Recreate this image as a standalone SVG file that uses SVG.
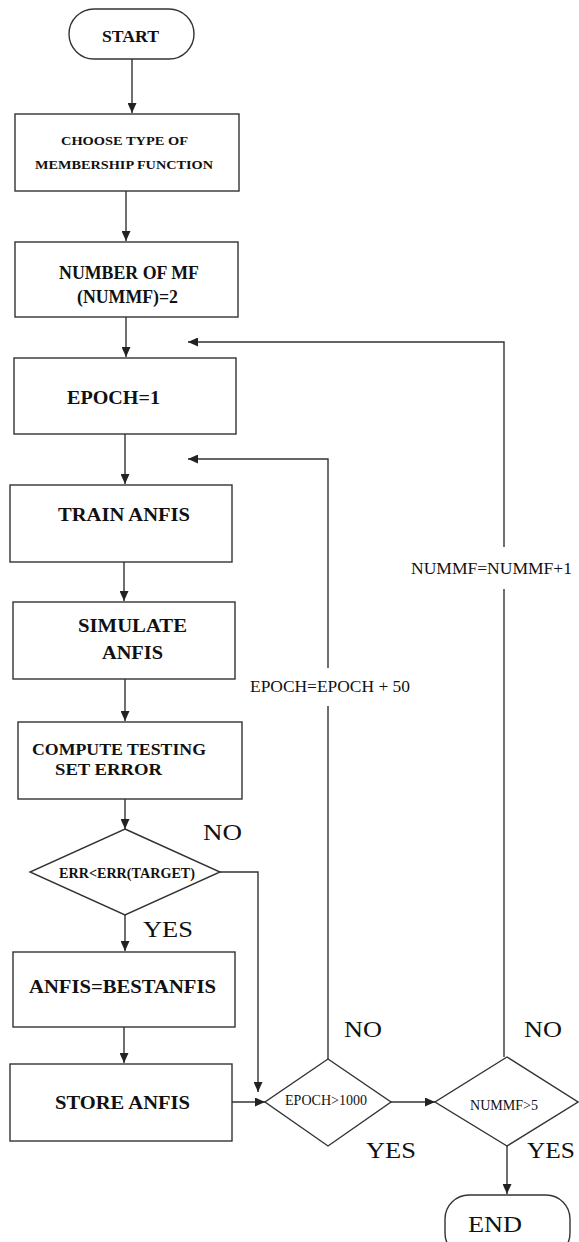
<svg xmlns="http://www.w3.org/2000/svg" width="579" height="1242" viewBox="0 0 579 1242">
<defs>
<marker id="ah" markerUnits="userSpaceOnUse" markerWidth="11" markerHeight="9" refX="10" refY="4.5" orient="auto">
<path d="M0,0 L10,4.5 L0,9 z" fill="#222"/>
</marker>
<style>
.sh{fill:#fff;stroke:#333;stroke-width:1.4}
.ln{fill:none;stroke:#333;stroke-width:1.4}
.ar{fill:none;stroke:#333;stroke-width:1.4;marker-end:url(#ah)}
text{font-family:'Liberation Serif','Times New Roman',serif;fill:#111;text-anchor:middle}
.b{font-weight:bold}
</style>
</defs>
<rect width="579" height="1242" fill="#fff"/>
<g id="connectors">
<path class="ar" d="M132,59 V113"/>
<path class="ar" d="M126,191 V241"/>
<path class="ar" d="M126,317 V357"/>
<path class="ar" d="M125,434 V484"/>
<path class="ar" d="M124,562 V601"/>
<path class="ar" d="M125,679 V721"/>
<path class="ar" d="M125,799 V829"/>
<path class="ar" d="M125,915 V951"/>
<path class="ar" d="M124,1027 V1063"/>
<path class="ar" d="M220,872 H258 V1092"/>
<path class="ar" d="M232,1102 H265"/>
<path class="ar" d="M391,1102 H435"/>
<path class="ar" d="M507,1146 V1194"/>
<path class="ln" d="M328,1059 V706"/>
<path class="ar" d="M328,668 V459 H188"/>
<path class="ln" d="M504,1057 V589"/>
<path class="ar" d="M504,547 V342 H188"/>
<text x="330" y="692" font-size="16" textLength="160" lengthAdjust="spacingAndGlyphs">EPOCH=EPOCH + 50</text>
<text x="491.5" y="574" font-size="16" textLength="161" lengthAdjust="spacingAndGlyphs">NUMMF=NUMMF+1</text>
<text x="222.5" y="840" font-size="24" textLength="39" lengthAdjust="spacingAndGlyphs">NO</text>
<text x="168" y="937" font-size="23" textLength="50" lengthAdjust="spacingAndGlyphs">YES</text>
<text x="363" y="1037" font-size="24" textLength="38" lengthAdjust="spacingAndGlyphs">NO</text>
<text x="391" y="1158" font-size="23" textLength="50" lengthAdjust="spacingAndGlyphs">YES</text>
<text x="543" y="1037" font-size="24" textLength="38" lengthAdjust="spacingAndGlyphs">NO</text>
<text x="551" y="1158" font-size="23" textLength="48" lengthAdjust="spacingAndGlyphs">YES</text>
</g>
<g id="start">
<rect class="sh" x="69" y="9" width="125" height="50" rx="25"/>
<text class="b" x="130.5" y="42" font-size="17" textLength="57" lengthAdjust="spacingAndGlyphs">START</text>
</g>
<g id="choose">
<rect class="sh" x="15" y="114" width="224" height="77"/>
<text class="b" x="124.5" y="145" font-size="12" textLength="127" lengthAdjust="spacingAndGlyphs">CHOOSE TYPE OF</text>
<text class="b" x="124" y="169" font-size="12" textLength="178" lengthAdjust="spacingAndGlyphs">MEMBERSHIP FUNCTION</text>
</g>
<g id="nummf">
<rect class="sh" x="15" y="242" width="223" height="75"/>
<text class="b" x="129" y="279" font-size="19" textLength="140" lengthAdjust="spacingAndGlyphs">NUMBER OF MF</text>
<text class="b" x="127.5" y="303" font-size="19" textLength="101" lengthAdjust="spacingAndGlyphs">(NUMMF)=2</text>
</g>
<g id="epoch1">
<rect class="sh" x="14" y="358" width="222" height="76"/>
<text class="b" x="113.5" y="404" font-size="19" textLength="93" lengthAdjust="spacingAndGlyphs">EPOCH=1</text>
</g>
<g id="train">
<rect class="sh" x="10" y="485" width="222" height="77"/>
<text class="b" x="124" y="521" font-size="19" textLength="132" lengthAdjust="spacingAndGlyphs">TRAIN ANFIS</text>
</g>
<g id="simulate">
<rect class="sh" x="13" y="602" width="222" height="77"/>
<text class="b" x="132.5" y="632" font-size="19" textLength="109" lengthAdjust="spacingAndGlyphs">SIMULATE</text>
<text class="b" x="132.5" y="659" font-size="19" textLength="61" lengthAdjust="spacingAndGlyphs">ANFIS</text>
</g>
<g id="compute">
<rect class="sh" x="18" y="722" width="224" height="77"/>
<text class="b" x="119" y="755" font-size="17" textLength="174" lengthAdjust="spacingAndGlyphs">COMPUTE  TESTING</text>
<text class="b" x="108.5" y="775" font-size="17" textLength="107" lengthAdjust="spacingAndGlyphs">SET ERROR</text>
</g>
<g id="errcheck">
<polygon class="sh" points="125,829 220,872 125,915 30,872"/>
<text class="b" x="127" y="878" font-size="14" textLength="136" lengthAdjust="spacingAndGlyphs">ERR&lt;ERR(TARGET)</text>
</g>
<g id="best">
<rect class="sh" x="13" y="952" width="222" height="75"/>
<text class="b" x="122.5" y="993" font-size="19" textLength="187" lengthAdjust="spacingAndGlyphs">ANFIS=BESTANFIS</text>
</g>
<g id="store">
<rect class="sh" x="10" y="1064" width="222" height="77"/>
<text class="b" x="122.5" y="1109" font-size="19" textLength="135" lengthAdjust="spacingAndGlyphs">STORE ANFIS</text>
</g>
<g id="epochcheck">
<polygon class="sh" points="328,1059 391,1102 328,1146 265,1102"/>
<text x="326" y="1105" font-size="14" textLength="82" lengthAdjust="spacingAndGlyphs">EPOCH&gt;1000</text>
</g>
<g id="nummfcheck">
<polygon class="sh" points="507,1057 578,1102 507,1146 435,1102"/>
<text x="504" y="1110" font-size="14" textLength="68" lengthAdjust="spacingAndGlyphs">NUMMF&gt;5</text>
</g>
<g id="end">
<rect class="sh" x="445" y="1195" width="125" height="62" rx="24"/>
<text x="495" y="1232" font-size="24" textLength="54" lengthAdjust="spacingAndGlyphs">END</text>
</g>
</svg>
